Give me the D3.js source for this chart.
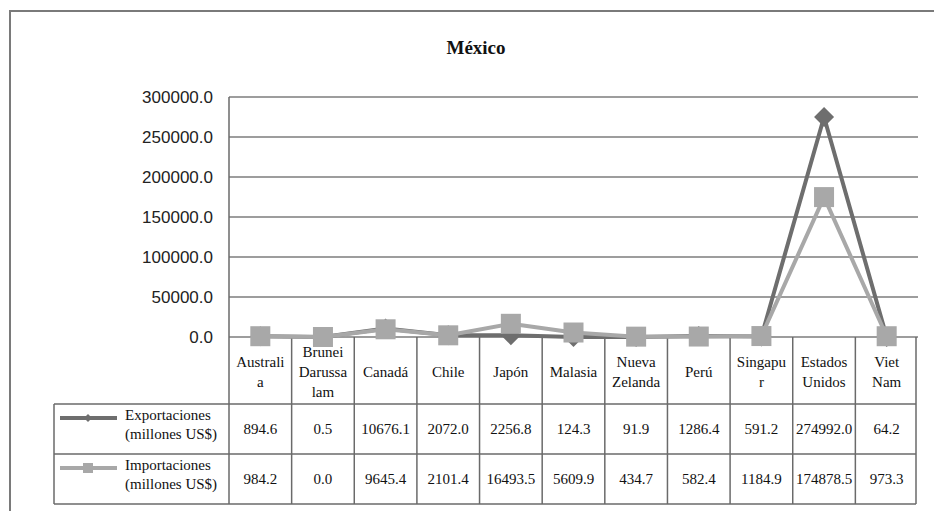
<!DOCTYPE html>
<html>
<head>
<meta charset="utf-8">
<script src="https://cdn.jsdelivr.net/npm/d3@7"></script>
<style>
  html, body { margin: 0; padding: 0; background: #fff; }
  svg { display: block; }
</style>
</head>
<body>
<svg id="chart" width="934" height="511"></svg>
<script>
// Chart data
const title = "México";
const categories = ["Australia", "Brunei Darussalam", "Canadá", "Chile", "Japón", "Malasia",
  "Nueva Zelanda", "Perú", "Singapur", "Estados Unidos", "Viet Nam"];
const categoryLines = [["Australi", "a"], ["Brunei", "Darussa", "lam"], ["Canadá"], ["Chile"],
  ["Japón"], ["Malasia"], ["Nueva", "Zelanda"], ["Perú"], ["Singapu", "r"], ["Estados", "Unidos"], ["Viet", "Nam"]];
const exportaciones = [894.6, 0.5, 10676.1, 2072.0, 2256.8, 124.3, 91.9, 1286.4, 591.2, 274992.0, 64.2];
const importaciones = [984.2, 0.0, 9645.4, 2101.4, 16493.5, 5609.9, 434.7, 582.4, 1184.9, 174878.5, 973.3];
const seriesNames = [["Exportaciones", "(millones US$)"], ["Importaciones", "(millones US$)"]];
const yTicks = [0, 50000, 100000, 150000, 200000, 250000, 300000];

const svg = d3.select("#chart");
const serif = "'Liberation Serif', 'Times New Roman', serif";
const sans = "'Liberation Sans', Arial, sans-serif";
const cExp = "#6e6e6e", cImp = "#a8a8a8", cGrid = "#7d7d7d";

// rhombus marker with equal half-width and half-height
const rhombus = r => `M0,${-r}L${r},0L0,${r}L${-r},0Z`;

svg.append("rect").attr("width", 934).attr("height", 511).attr("fill", "#fff");

// outer chart frame (open at right/bottom edges)
svg.append("path").attr("d", "M10,520 L10,11 L940,11")
  .attr("fill", "none").attr("stroke", "#7a7a7a").attr("stroke-width", 2);

svg.append("text").attr("x", 476).attr("y", 54).attr("text-anchor", "middle")
  .attr("font-family", serif).attr("font-weight", "bold").attr("font-size", 19)
  .attr("fill", "#111").text(title);

const x = d3.scaleBand().domain(categories).range([229, 918]).padding(0);
const y = d3.scaleLinear().domain([0, 300000]).range([337, 97]);
const cx = d => x(d) + x.bandwidth() / 2;

// gridlines
svg.append("g").selectAll("line").data(yTicks).join("line")
  .attr("x1", 229).attr("x2", 918).attr("y1", d => y(d)).attr("y2", d => y(d))
  .attr("stroke", cGrid).attr("stroke-width", 1.5);

// y axis labels
svg.append("g").selectAll("text").data(yTicks).join("text")
  .attr("x", 213).attr("y", d => y(d) + 6).attr("text-anchor", "end")
  .attr("font-family", sans).attr("font-size", 17).attr("fill", "#222")
  .text(d => d3.format(".1f")(d));

// data table
const rowTop = [337, 404, 454, 504];
const legL = 54, tabR = x.range()[1] - 2;
const tg = svg.append("g").attr("stroke", "#6a6a6a").attr("stroke-width", 1.5);
// horizontal rules
tg.append("line").attr("x1", 229).attr("x2", tabR).attr("y1", rowTop[1]).attr("y2", rowTop[1]);
tg.append("line").attr("x1", legL).attr("x2", 229).attr("y1", rowTop[1]).attr("y2", rowTop[1]);
[2, 3].forEach(i => tg.append("line").attr("x1", legL).attr("x2", tabR).attr("y1", rowTop[i]).attr("y2", rowTop[i]));
// vertical rules
tg.append("line").attr("x1", 229).attr("x2", 229).attr("y1", y(300000)).attr("y2", rowTop[3]);
tg.append("line").attr("x1", legL).attr("x2", legL).attr("y1", rowTop[1]).attr("y2", rowTop[3]);
categories.forEach((c, i) => {
  const xr = i === categories.length - 1 ? tabR : x(c) + x.bandwidth();
  tg.append("line").attr("x1", xr).attr("x2", xr).attr("y1", rowTop[0]).attr("y2", rowTop[3]);
});

// category header cells
const hdr = svg.append("g").attr("font-family", serif).attr("font-size", 15).attr("fill", "#111")
  .attr("text-anchor", "middle");
categories.forEach((c, i) => {
  const lines = categoryLines[i];
  const mid = (rowTop[0] + rowTop[1]) / 2 + 1;
  lines.forEach((t, j) => {
    hdr.append("text").attr("x", cx(c))
      .attr("y", mid + (j - (lines.length - 1) / 2) * 20 + 5).text(t);
  });
});

// value cells
const series = [exportaciones, importaciones];
series.forEach((vals, s) => {
  const mid = (rowTop[s + 1] + rowTop[s + 2]) / 2;
  svg.append("g").selectAll("text").data(vals).join("text")
    .attr("x", (d, i) => cx(categories[i])).attr("y", mid + 5)
    .attr("text-anchor", "middle").attr("font-family", serif).attr("font-size", 15).attr("fill", "#111")
    .text(d => d3.format(".1f")(d));
});

// legend keys inside the table
const colors = [cExp, cImp];
seriesNames.forEach((names, s) => {
  const mid = (rowTop[s + 1] + rowTop[s + 2]) / 2;
  const ly = mid - 11;
  svg.append("line").attr("x1", 60).attr("x2", 117).attr("y1", ly).attr("y2", ly)
    .attr("stroke", colors[s]).attr("stroke-width", 4);
  if (s === 0) {
    svg.append("path").attr("d", rhombus(4))
      .attr("transform", `translate(88,${ly})`).attr("fill", colors[s]);
  } else {
    svg.append("rect").attr("x", 83).attr("y", ly - 5).attr("width", 10).attr("height", 10)
      .attr("fill", colors[s]);
  }
  names.forEach((t, j) => {
    svg.append("text").attr("x", 125).attr("y", mid - 9 + j * 19)
      .attr("font-family", serif).attr("font-size", 15).attr("fill", "#111").text(t);
  });
});

// series lines and markers
const line = d3.line().x((d, i) => cx(categories[i])).y(d => y(d));
svg.append("path").datum(exportaciones).attr("d", line)
  .attr("fill", "none").attr("stroke", cExp).attr("stroke-width", 4).attr("stroke-linejoin", "round");
svg.append("g").selectAll("path").data(exportaciones).join("path")
  .attr("d", rhombus(10))
  .attr("transform", (d, i) => `translate(${cx(categories[i])},${y(d)})`)
  .attr("fill", cExp);

svg.append("path").datum(importaciones).attr("d", line)
  .attr("fill", "none").attr("stroke", cImp).attr("stroke-width", 4).attr("stroke-linejoin", "round");
svg.append("g").selectAll("rect").data(importaciones).join("rect")
  .attr("x", (d, i) => cx(categories[i]) - 10).attr("y", d => y(d) - 10)
  .attr("width", 20).attr("height", 20).attr("fill", cImp);
</script>
</body>
</html>
